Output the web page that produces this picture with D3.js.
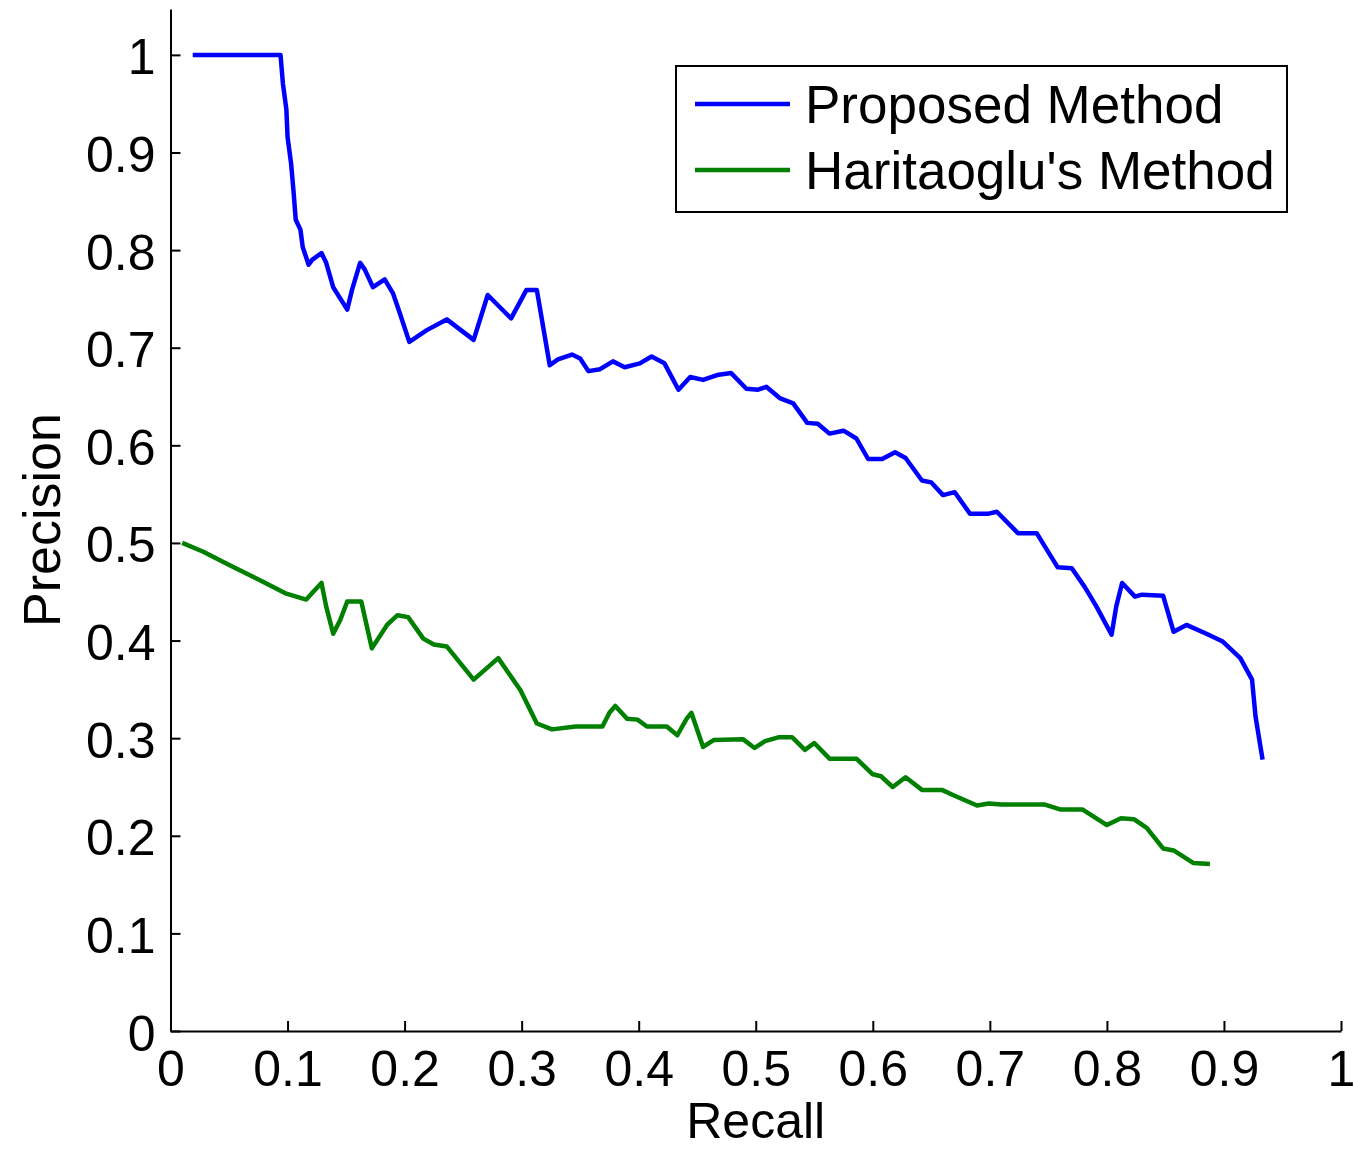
<!DOCTYPE html>
<html>
<head>
<meta charset="utf-8">
<script src="https://cdn.jsdelivr.net/npm/d3@7"></script>
<style>
  body { margin: 0; background: #fff; }
  text { font-family: "Liberation Sans", Arial, sans-serif; fill: #000; }
</style>
</head>
<body>
<div class="pr_chart"></div>
<script>

// Proposed method (recall, precision)
var proposedRecall = [0.019, 0.094, 0.096, 0.099, 0.100, 0.103, 0.105, 0.107, 0.111, 0.113,
  0.118, 0.121, 0.129, 0.133, 0.139, 0.151, 0.155, 0.162, 0.166, 0.173,
  0.183, 0.190, 0.196, 0.204, 0.219, 0.236, 0.259, 0.271, 0.291, 0.304,
  0.313, 0.324, 0.331, 0.343, 0.350, 0.357, 0.367, 0.378, 0.388, 0.401,
  0.411, 0.422, 0.434, 0.444, 0.455, 0.467, 0.479, 0.492, 0.502, 0.509,
  0.521, 0.532, 0.544, 0.553, 0.563, 0.575, 0.586, 0.596, 0.608, 0.619,
  0.628, 0.642, 0.650, 0.660, 0.670, 0.683, 0.699, 0.706, 0.724, 0.740,
  0.758, 0.770, 0.781, 0.791, 0.804, 0.808, 0.813, 0.824, 0.830, 0.848,
  0.857, 0.868, 0.885, 0.899, 0.914, 0.924, 0.927, 0.933];
var proposedPrecision = [1.000, 1.000, 0.971, 0.944, 0.916, 0.889, 0.862, 0.831, 0.821, 0.803,
  0.785, 0.790, 0.797, 0.787, 0.762, 0.739, 0.759, 0.787, 0.780, 0.762,
  0.770, 0.756, 0.735, 0.706, 0.718, 0.729, 0.708, 0.754, 0.730, 0.759,
  0.759, 0.682, 0.688, 0.693, 0.689, 0.676, 0.678, 0.686, 0.680, 0.684,
  0.691, 0.684, 0.657, 0.670, 0.667, 0.672, 0.674, 0.658, 0.657, 0.660,
  0.648, 0.643, 0.623, 0.622, 0.612, 0.615, 0.607, 0.586, 0.586, 0.593,
  0.587, 0.564, 0.562, 0.549, 0.552, 0.530, 0.530, 0.532, 0.510, 0.510,
  0.475, 0.474, 0.455, 0.435, 0.406, 0.435, 0.459, 0.445, 0.447, 0.446,
  0.409, 0.416, 0.407, 0.399, 0.382, 0.360, 0.322, 0.278];

// Haritaoglu's method (recall, precision)
var haritaRecall = [0.010, 0.028, 0.051, 0.076, 0.099, 0.116, 0.122, 0.129, 0.133, 0.139,
  0.145, 0.151, 0.163, 0.172, 0.185, 0.194, 0.203, 0.216, 0.225, 0.236,
  0.259, 0.280, 0.299, 0.313, 0.326, 0.346, 0.369, 0.375, 0.380, 0.390,
  0.399, 0.407, 0.424, 0.433, 0.441, 0.445, 0.455, 0.464, 0.489, 0.499,
  0.508, 0.520, 0.531, 0.542, 0.550, 0.563, 0.586, 0.600, 0.607, 0.617,
  0.628, 0.642, 0.659, 0.668, 0.689, 0.699, 0.710, 0.747, 0.760, 0.779,
  0.800, 0.812, 0.823, 0.834, 0.848, 0.857, 0.874, 0.888];
var haritaPrecision = [0.500, 0.491, 0.477, 0.462, 0.448, 0.442, 0.450, 0.459, 0.435, 0.407,
  0.421, 0.440, 0.440, 0.392, 0.416, 0.426, 0.424, 0.402, 0.396, 0.394,
  0.360, 0.382, 0.349, 0.315, 0.309, 0.312, 0.312, 0.326, 0.333, 0.320,
  0.319, 0.312, 0.312, 0.303, 0.320, 0.326, 0.291, 0.298, 0.299, 0.290,
  0.297, 0.301, 0.301, 0.288, 0.295, 0.279, 0.279, 0.263, 0.261, 0.250,
  0.260, 0.247, 0.247, 0.242, 0.231, 0.233, 0.232, 0.232, 0.227, 0.227,
  0.211, 0.218, 0.217, 0.208, 0.187, 0.185, 0.172, 0.171];

var tickValues = [0, 0.1, 0.2, 0.3, 0.4, 0.5, 0.6, 0.7, 0.8, 0.9, 1];
var seriesNames = ["Proposed Method", "Haritaoglu's Method"];
var seriesColors = ["#0000ff", "#008000"];

var svgWidth = 1354;
var svgHeight = 1150;

var margin = {
  top: 9,
  right: 13,
  bottom: 119,
  left: 170.5
};

var width = svgWidth - margin.left - margin.right;
var height = svgHeight - margin.top - margin.bottom;

var svg = d3
  .select(".pr_chart")
  .append("svg")
  .attr("width", svgWidth)
  .attr("height", svgHeight);

var chartGroup = svg.append("g")
  .attr("transform", `translate(${margin.left}, ${margin.top})`);

// scales
var xLinearScale = d3.scaleLinear().domain([0, 1]).range([0, width]);
var yLinearScale = d3.scaleLinear().domain([0, 1.047]).range([height, 0]);

var fmt = d => String(+d.toFixed(1));

// axes, ticks point inward like matlab
var bottomAxis = d3.axisBottom(xLinearScale)
  .tickValues(tickValues)
  .tickFormat(fmt)
  .tickSizeInner(-10)
  .tickSizeOuter(0)
  .tickPadding(19);

var leftAxis = d3.axisLeft(yLinearScale)
  .tickValues(tickValues)
  .tickFormat(fmt)
  .tickSizeInner(-10)
  .tickSizeOuter(0)
  .tickPadding(15);

var xAxis = chartGroup.append("g")
  .attr("transform", `translate(0, ${height})`)
  .call(bottomAxis);

var yAxis = chartGroup.append("g")
  .call(leftAxis);

[xAxis, yAxis].forEach(function (ax) {
  ax.select(".domain").attr("stroke", "#000").attr("stroke-width", 2);
  ax.selectAll(".tick line").attr("stroke", "#000").attr("stroke-width", 2);
  ax.selectAll(".tick text")
    .attr("font-size", "50px")
    .attr("font-family", "Liberation Sans, Arial, sans-serif")
    .attr("fill", "#000");
});
yAxis.selectAll(".tick text").attr("dy", "0.38em");

// curves
var line = d3.line()
  .x(d => xLinearScale(d[0]))
  .y(d => yLinearScale(d[1]));

var proposedData = proposedRecall.map((r, i) => [r, proposedPrecision[i]]);
var haritaData = haritaRecall.map((r, i) => [r, haritaPrecision[i]]);

chartGroup.append("path")
  .datum(haritaData)
  .attr("d", line)
  .attr("fill", "none")
  .attr("stroke", seriesColors[1])
  .attr("stroke-width", 4.5)
  .attr("stroke-linejoin", "round");

chartGroup.append("path")
  .datum(proposedData)
  .attr("d", line)
  .attr("fill", "none")
  .attr("stroke", seriesColors[0])
  .attr("stroke-width", 4.5)
  .attr("stroke-linejoin", "round");

// axis labels
svg.append("text")
  .attr("x", margin.left + xLinearScale(0.5))
  .attr("y", 1138)
  .attr("text-anchor", "middle")
  .attr("font-size", "50px")
  .text("Recall");

svg.append("text")
  .attr("transform", "translate(60, 520) rotate(-90)")
  .attr("text-anchor", "middle")
  .attr("font-size", "52px")
  .text("Precision");

// legend
var legend = svg.append("g");

legend.append("rect")
  .attr("x", 676)
  .attr("y", 66)
  .attr("width", 611)
  .attr("height", 146)
  .attr("fill", "#fff")
  .attr("stroke", "#000")
  .attr("stroke-width", 2);

var legendY = [104, 170];
seriesNames.forEach(function (name, i) {
  legend.append("line")
    .attr("x1", 695)
    .attr("x2", 790)
    .attr("y1", legendY[i])
    .attr("y2", legendY[i])
    .attr("stroke", seriesColors[i])
    .attr("stroke-width", 4.5);
  legend.append("text")
    .attr("x", 805)
    .attr("y", legendY[i] + 19)
    .attr("font-size", "53px")
    .text(name);
});

</script>
</body>
</html>
